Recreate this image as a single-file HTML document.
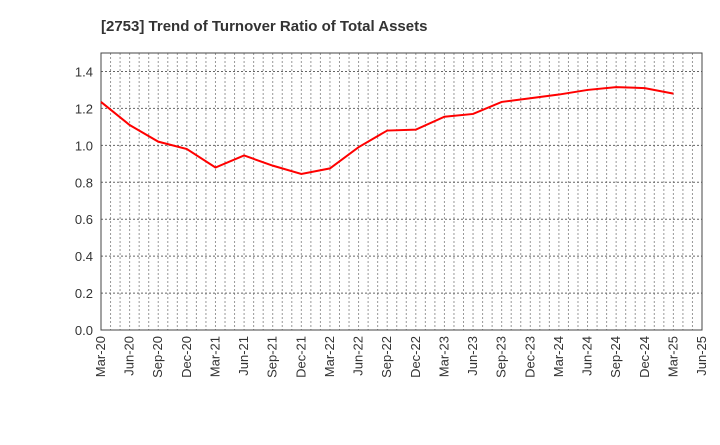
<!DOCTYPE html>
<html><head><meta charset="utf-8"><style>
body{margin:0;background:#fff;font-family:"Liberation Sans",sans-serif;}
</style></head><body>
<svg id="chart" width="720" height="440" xmlns="http://www.w3.org/2000/svg" font-family="Liberation Sans, sans-serif">
<text x="101" y="31" font-size="15" font-weight="bold" fill="#333">[2753]  Trend of Turnover Ratio of Total Assets</text>
<g id="grid"></g><g id="axes"></g><g id="series"></g>
</svg>
<script>
const categories=["Mar-20","Jun-20","Sep-20","Dec-20","Mar-21","Jun-21","Sep-21","Dec-21","Mar-22","Jun-22","Sep-22","Dec-22","Mar-23","Jun-23","Sep-23","Dec-23","Mar-24","Jun-24","Sep-24","Dec-24","Mar-25","Jun-25"];
const values=[1.235,1.11,1.02,0.98,0.88,0.945,0.89,0.845,0.875,0.99,1.08,1.085,1.155,1.17,1.235,1.255,1.275,1.30,1.315,1.31,1.28];
const yTicks=[0,0.2,0.4,0.6,0.8,1.0,1.2,1.4];
const L=101,R=702,T=53,B=330,yMax=1.5,months=63;
const ns="http://www.w3.org/2000/svg";
const xs=m=>L+(R-L)*m/months;
const xq=i=>xs(i*3);
const y=v=>B-(B-T)*v/yMax;
function mk(t,a,p){const e=document.createElementNS(ns,t);for(const k in a)e.setAttribute(k,a[k]);p.appendChild(e);return e;}
const g=document.getElementById('grid'),ax=document.getElementById('axes'),s=document.getElementById('series');
for(let m=1;m<months;m++){const l=mk('line',{x1:xs(m),x2:xs(m),y1:T,y2:B,stroke:'#999','stroke-width':1,'stroke-dasharray':'2,2'},g);

}
yTicks.forEach(v=>{if(v>0){const l=mk('line',{x1:L,x2:R,y1:y(v),y2:y(v),stroke:'#666','stroke-width':1,'stroke-dasharray':'2,2'},g);

}
const t=mk('text',{x:L-8,y:y(v)+5,'text-anchor':'end','font-size':13,fill:'#333'},ax);t.textContent=v.toFixed(1);

});
categories.forEach((c,i)=>{const x=xq(i);const t=mk('text',{x:x+4,y:B+6,'text-anchor':'end','font-size':13,fill:'#333',transform:`rotate(-90 ${x+4} ${B+6})`},ax);t.textContent=c;

});
const box=mk('rect',{x:L,y:T,width:R-L,height:B-T,fill:'none',stroke:'#444','stroke-width':1},ax);


const pl=mk('polyline',{points:values.map((v,i)=>xq(i)+','+y(v)).join(' '),fill:'none',stroke:'#ff0000','stroke-width':2},s);


</script>
</body></html>
